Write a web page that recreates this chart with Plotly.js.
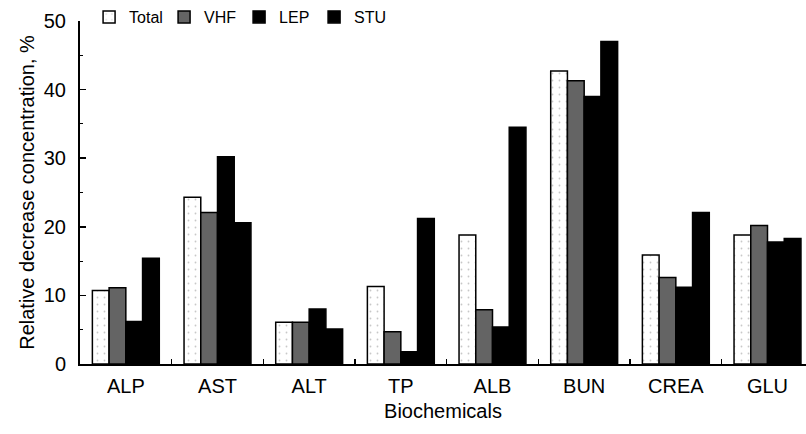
<!DOCTYPE html>
<html>
<head>
<meta charset="utf-8">
<script src="https://cdn.plot.ly/plotly-3.0.1.min.js"></script>
<style>html,body{margin:0;padding:0;background:#fff;}#chart{width:806px;height:434px;}</style>
</head>
<body>
<div id="chart"></div>
<script>
const categories = ["ALP", "AST", "ALT", "TP", "ALB", "BUN", "CREA", "GLU"];
const seriesNames = ["Total", "VHF", "LEP", "STU"];
const totalValues = [10.7, 24.3, 6.1, 11.3, 18.8, 42.7, 15.9, 18.8];
const vhfValues   = [11.1, 22.1, 6.1, 4.7, 7.9, 41.3, 12.6, 20.2];
const lepValues   = [6.2, 30.2, 8.0, 1.8, 5.4, 39.0, 11.2, 17.8];
const stuValues   = [15.4, 20.6, 5.1, 21.2, 34.5, 47.0, 22.1, 18.3];
const yTickVals = [0, 10, 20, 30, 40, 50];

const font = "Liberation Sans, Arial, sans-serif";
const line = {color: "#000", width: 1.5};

const traces = [
  {name: seriesNames[0], x: categories, y: totalValues, type: "bar",
   marker: {color: "#fff", line: line,
            pattern: {shape: ".", fgcolor: "#c8c8c8", bgcolor: "#ffffff", size: 7, solidity: 0.05}}},
  {name: seriesNames[1], x: categories, y: vhfValues, type: "bar",
   marker: {color: "#777", line: line,
            pattern: {shape: ".", fgcolor: "#333", bgcolor: "#8a8a8a", size: 2, solidity: 0.5}}},
  {name: seriesNames[2], x: categories, y: lepValues, type: "bar",
   marker: {color: "#000", line: line}},
  {name: seriesNames[3], x: categories, y: stuValues, type: "bar",
   marker: {color: "#000", line: line}}
];

const layout = {
  width: 806, height: 434,
  margin: {l: 80, r: 0, t: 20, b: 70},
  paper_bgcolor: "#fff", plot_bgcolor: "#fff",
  font: {family: font, size: 20, color: "#000"},
  barmode: "group", bargap: 0.27, bargroupgap: 0,
  showlegend: true,
  legend: {orientation: "h", x: 0.0125, y: 1.06, xanchor: "left", yanchor: "top",
           font: {family: font, size: 16, color: "#000"}, itemwidth: 30, entrywidth: 30,
           bgcolor: "rgba(0,0,0,0)", traceorder: "normal"},
  xaxis: {
    type: "category", range: [-0.5, 7.42],
    showline: true, linecolor: "#000", linewidth: 2,
    ticks: "inside", tickson: "boundaries", ticklen: 5, tickcolor: "#000", tickwidth: 1.5,
    ticklabelstandoff: 3,
    tickfont: {family: font, size: 20, color: "#000"},
    showgrid: false, zeroline: false,
    title: {text: "Biochemicals", font: {family: font, size: 20, color: "#000"}, standoff: 8}
  },
  yaxis: {
    range: [0, 50], tickvals: yTickVals,
    showline: true, linecolor: "#000", linewidth: 2,
    ticks: "inside", ticklen: 6, tickcolor: "#000", tickwidth: 1.5,
    ticklabelstandoff: 8,
    minor: {dtick: 5, ticks: "inside", ticklen: 3, tickcolor: "#000", tickwidth: 1},
    tickfont: {family: font, size: 20, color: "#000"},
    showgrid: false, zeroline: false,
    title: {text: "Relative decrease concentration, %", font: {family: font, size: 20, color: "#000"}, standoff: 4}
  }
};

Plotly.newPlot("chart", traces, layout, {displayModeBar: false, staticPlot: true});
</script>
</body>
</html>
